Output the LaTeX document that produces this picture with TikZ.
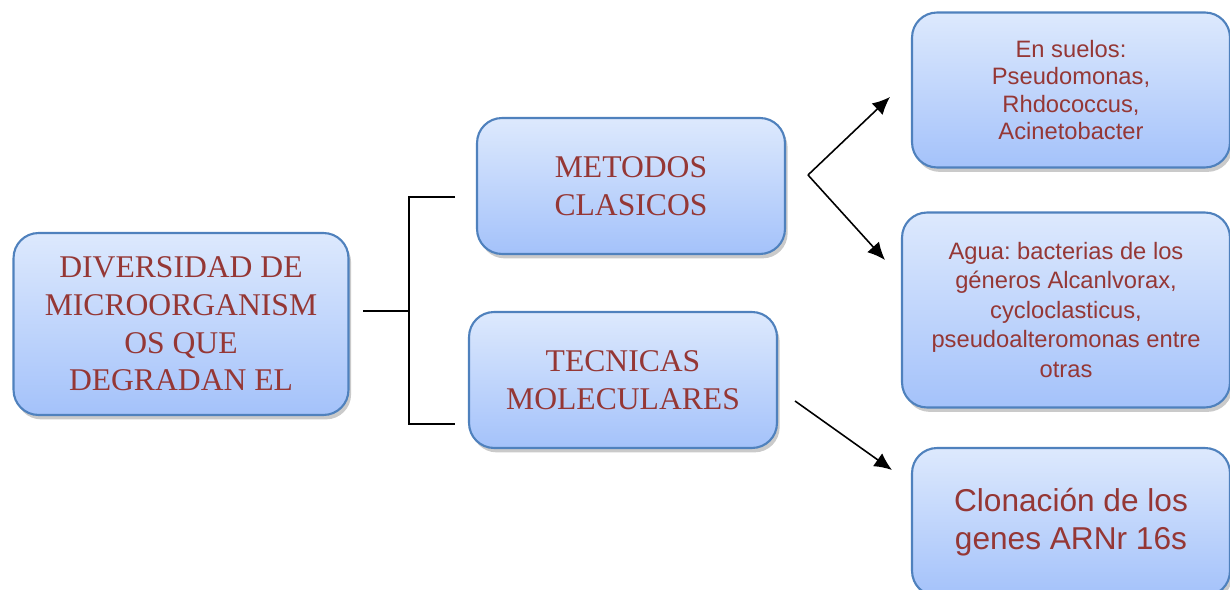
\documentclass[tikz,border=0pt]{standalone}
\usepackage{fontspec}
\setmainfont{Liberation Serif}
\setsansfont{Liberation Sans}
\usetikzlibrary{arrows.meta}
\usetikzlibrary{shadows}
\definecolor{cajaarriba}{RGB}{221,233,253}
\definecolor{cajaabajo}{RGB}{164,194,250}
\definecolor{cajaborde}{RGB}{79,129,189}
\definecolor{rojotexto}{RGB}{149,55,53}
\frenchspacing

\begin{document}
\begin{tikzpicture}[x=0.02cm,y=-0.02cm,
  caja/.style={draw=cajaborde,line width=1.2pt,rounded corners=0.5cm,
    top color=cajaarriba,bottom color=cajaabajo,
    drop shadow={shadow xshift=1.5pt,shadow yshift=-2.5pt,opacity=0.35,fill=black!60},
    text=rojotexto,align=center,inner sep=0pt},
  romana/.style={caja,font=\fontsize{18}{21.5}\selectfont},
  palo/.style={caja,font=\sffamily\fontsize{13.5}{15.5}\selectfont},
  flecha/.style={-{Latex[length=10pt,width=9pt]},line width=0.9pt},
  raya/.style={line width=0.9pt}]

\useasboundingbox (0,0) rectangle (1230,590);
\clip (0,0) rectangle (1230,590);

% cajas
\node[romana,minimum width=6.7cm,minimum height=3.64cm] (diversidad) at (181,324)
{DIVERSIDAD DE\\MICROORGANISM\\OS QUE\\DEGRADAN EL};
\node[romana,minimum width=6.16cm,minimum height=2.72cm] (metodos) at (631,186)
{METODOS\\CLASICOS};
\node[romana,minimum width=6.16cm,minimum height=2.72cm] (tecnicas) at (623,380)
{TECNICAS\\MOLECULARES};

\node[palo,minimum width=6.36cm,minimum height=3.1cm] (suelos) at (1071,90)
{En suelos:\\Pseudomonas,\\Rhdococcus,\\Acinetobacter};
\node[palo,font=\sffamily\fontsize{13.5}{16.8}\selectfont,minimum width=6.56cm,minimum height=3.9cm] (agua) at (1066,310)
{Agua: bacterias de los\\g\'eneros Alcanlvorax,\\cycloclasticus,\\pseudoalteromonas entre\\otras};
\node[palo,font=\sffamily\fontsize{18}{22}\selectfont,minimum width=6.36cm,minimum height=2.96cm] (clonacion) at (1071,522)
{Clonaci\'on de los\\genes ARNr 16s};

% llave
\coordinate (d1) at (363,311);
\coordinate (ramal) at (409,311);
\coordinate (m1) at (455,197);
\coordinate (t1) at (455,424);
\draw[raya] (d1) -- (ramal);
\draw[raya] (m1) -| (ramal) |- (t1);

% flechas
\coordinate (a0) at (808,175);
\coordinate (a1) at (890,97);
\coordinate (a2) at (885,260);
\coordinate (b0) at (795,401);
\coordinate (b1) at (892,470);
\draw[flecha] (a0) -- (a1);
\draw[flecha] (a0) -- (a2);
\draw[flecha] (b0) -- (b1);
\end{tikzpicture}
\end{document}
